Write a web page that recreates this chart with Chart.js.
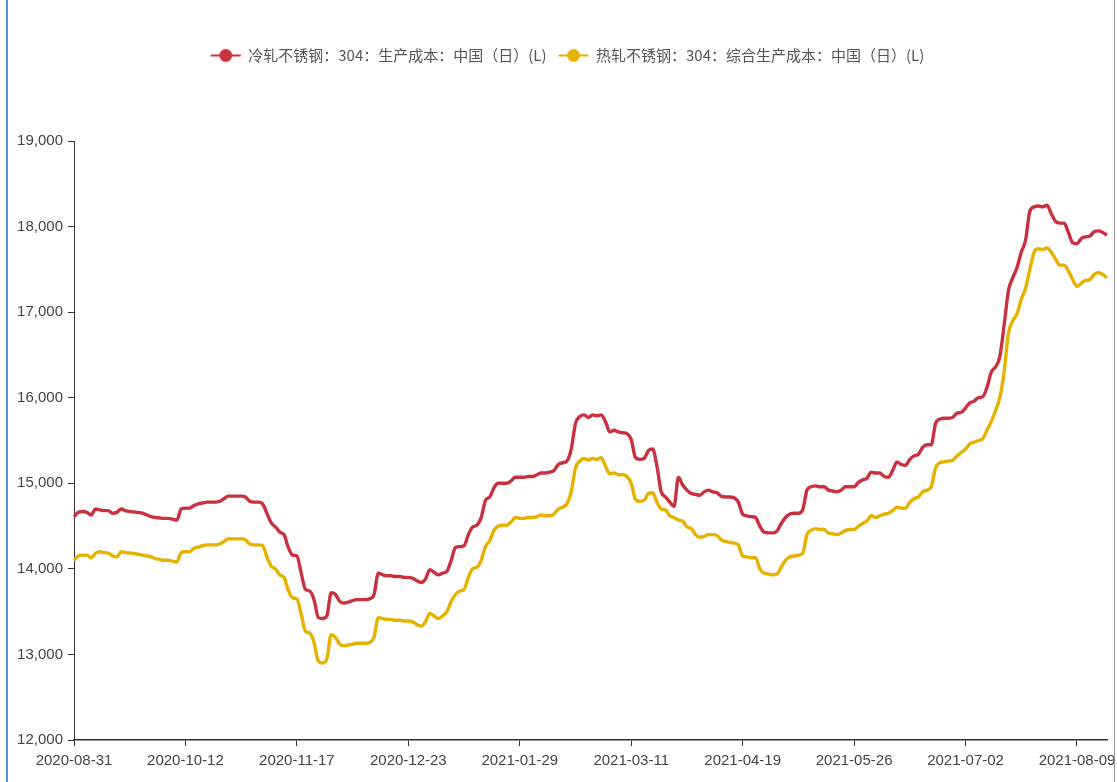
<!DOCTYPE html>
<html>
<head>
<meta charset="utf-8">
<script src="https://cdn.jsdelivr.net/npm/chart.js@4.4.1/dist/chart.umd.min.js"></script>
<style>
  html, body { margin: 0; padding: 0; background: #fff; }
  #wrap { position: relative; width: 1117px; height: 782px; overflow: hidden; background: #fff; }
  #frameL { position: absolute; left: 6px; top: 0; width: 2px; height: 782px; background: #5b8fd6; }
  #frameR { position: absolute; left: 1114px; top: 0; width: 1px; height: 782px; background: #9a9a9a; }
  canvas { position: absolute; left: 0; top: 0; }
</style>
</head>
<body>
<div id="wrap">
  <canvas id="c" width="1117" height="782"></canvas>
  <div id="frameL"></div>
  <div id="frameR"></div>
</div>
<script>
// ---- categories: Chinese trading days from 2020-08-31 to 2021-08-18 ----
const startDate = '2020-08-31';
const endDate = '2021-08-18';
const holidays = ['2020-10-01','2020-10-02','2020-10-05','2020-10-06','2020-10-07','2020-10-08',
  '2021-01-01','2021-02-11','2021-02-12','2021-02-15','2021-02-16','2021-02-17',
  '2021-04-05','2021-05-03','2021-05-04','2021-05-05','2021-06-14'];
const makeupDays = ['2020-09-27','2020-10-10','2021-02-07','2021-02-20','2021-04-25','2021-05-08'];
const tickLabels = ['2020-08-31','2020-10-12','2020-11-17','2020-12-23','2021-01-29',
  '2021-03-11','2021-04-19','2021-05-26','2021-07-02','2021-08-09'];

function buildDates() {
  const out = [];
  const d = new Date(startDate + 'T00:00:00Z');
  const end = new Date(endDate + 'T00:00:00Z');
  while (d <= end) {
    const s = d.toISOString().slice(0, 10);
    const wd = d.getUTCDay();
    const isWork = (wd !== 0 && wd !== 6 && !holidays.includes(s)) || makeupDays.includes(s);
    if (isWork) out.push(s);
    d.setUTCDate(d.getUTCDate() + 1);
  }
  return out;
}
const dates = buildDates();

// ---- series ----
const coldRolled = [
  14610,14660,14670,14660,14630,14700,14690,14680,14680,14650,
  14660,14700,14680,14670,14665,14660,14650,14630,14610,14600,
  14595,14590,14590,14580,14570,14700,14710,14710,14740,14760,
  14770,14780,14780,14780,14790,14820,14850,14850,14850,14850,
  14840,14790,14780,14780,14760,14650,14540,14490,14430,14400,
  14250,14160,14150,13950,13760,13740,13640,13430,13420,13450,
  13720,13700,13620,13600,13610,13630,13640,13640,13640,13650,
  13700,13950,13930,13920,13920,13910,13910,13900,13900,13890,
  13860,13840,13880,13990,13960,13930,13950,13970,14100,14250,
  14260,14270,14400,14490,14510,14600,14800,14840,14950,15000,
  15000,15000,15030,15070,15070,15070,15080,15080,15100,15120,
  15120,15130,15150,15220,15240,15260,15400,15700,15780,15800,
  15770,15800,15790,15800,15720,15600,15620,15600,15590,15580,
  15510,15300,15280,15290,15380,15400,15200,14900,14840,14780,
  14730,15070,14980,14920,14880,14870,14860,14900,14920,14900,
  14890,14850,14840,14840,14830,14780,14640,14620,14610,14600,
  14500,14430,14420,14420,14440,14530,14600,14640,14650,14650,
  14690,14920,14960,14970,14960,14960,14920,14910,14900,14920,
  14960,14960,14960,15010,15040,15060,15130,15120,15120,15080,
  15070,15150,15250,15220,15210,15280,15320,15340,15420,15450,
  15450,15700,15750,15760,15760,15770,15820,15830,15880,15940,
  15960,16000,16010,16120,16300,16360,16480,16850,17250,17400,
  17520,17700,17840,18180,18230,18240,18230,18250,18150,18060,
  18040,18040,17930,17810,17800,17860,17880,17890,17940,17950,
  17930,17900
];
const hotRolled = [
  14100,14150,14160,14160,14130,14180,14200,14190,14185,14150,
  14140,14200,14190,14185,14180,14170,14160,14150,14140,14120,
  14110,14100,14100,14090,14080,14190,14200,14200,14240,14255,
  14270,14280,14280,14280,14290,14320,14350,14350,14350,14350,
  14340,14290,14280,14280,14270,14140,14030,14000,13930,13900,
  13750,13660,13650,13470,13270,13250,13140,12920,12900,12950,
  13230,13200,13120,13100,13110,13120,13130,13130,13130,13140,
  13200,13430,13420,13410,13410,13400,13400,13390,13390,13380,
  13350,13330,13380,13480,13450,13420,13450,13500,13620,13700,
  13740,13760,13900,14000,14020,14100,14260,14330,14450,14500,
  14510,14510,14550,14600,14590,14590,14600,14600,14610,14630,
  14620,14620,14640,14700,14720,14760,14900,15180,15260,15290,
  15270,15290,15280,15300,15200,15110,15120,15100,15100,15080,
  15000,14810,14790,14800,14880,14890,14780,14700,14690,14620,
  14600,14570,14560,14490,14470,14400,14370,14380,14400,14400,
  14390,14340,14320,14310,14300,14280,14150,14140,14130,14130,
  14000,13950,13940,13930,13940,14020,14100,14140,14150,14160,
  14180,14400,14450,14470,14460,14460,14420,14410,14400,14420,
  14450,14460,14460,14500,14530,14560,14620,14600,14620,14640,
  14650,14680,14720,14710,14710,14780,14820,14840,14900,14920,
  14960,15180,15240,15250,15260,15270,15320,15360,15400,15460,
  15480,15500,15520,15620,15720,15850,16000,16300,16750,16900,
  16980,17150,17280,17500,17700,17740,17730,17750,17700,17620,
  17550,17550,17480,17380,17300,17340,17370,17380,17440,17460,
  17440,17400
];
const seriesNames = ['冷轧不锈钢：304：生产成本：中国（日）(L)', '热轧不锈钢：304：综合生产成本：中国（日）(L)'];
const seriesColors = ['#c8323e', '#e6b200'];
const yMin = 12000, yMax = 19000, yStep = 1000;

function legendIcon(color) {
  const cv = document.createElement('canvas');
  cv.width = 32; cv.height = 16;
  const g = cv.getContext('2d');
  g.strokeStyle = color; g.lineWidth = 2;
  g.beginPath(); g.moveTo(1, 8); g.lineTo(31, 8); g.stroke();
  g.fillStyle = color;
  g.beginPath(); g.arc(16, 8, 6.5, 0, Math.PI * 2); g.fill();
  return cv;
}
const icons = seriesColors.map(legendIcon);

const legendSpacer = {
  id: 'legendSpacer',
  beforeUpdate(chart) {
    const lg = chart.legend;
    if (lg && !lg._patched) {
      const orig = lg.fit;
      lg.fit = function () { orig.call(this); this.height = 105; };
      lg._patched = true;
    }
  },
  afterUpdate(chart) {
    const lg = chart.legend;
    if (lg) { lg.left += 14; lg.right += 14; }
  }
};

new Chart(document.getElementById('c'), {
  type: 'line',
  data: {
    labels: dates,
    datasets: [
      { label: seriesNames[0], data: coldRolled, borderColor: seriesColors[0], backgroundColor: seriesColors[0],
        borderWidth: 3.4, pointRadius: 0, cubicInterpolationMode: 'monotone', borderJoinStyle: 'round' },
      { label: seriesNames[1], data: hotRolled, borderColor: seriesColors[1], backgroundColor: seriesColors[1],
        borderWidth: 3.4, pointRadius: 0, cubicInterpolationMode: 'monotone', borderJoinStyle: 'round' }
    ]
  },
  options: {
    responsive: false,
    animation: false,
    layout: { padding: { top: 36, right: 10, bottom: 0, left: 0 } },
    plugins: {
      tooltip: { enabled: false },
      legend: {
        position: 'top',
        labels: {
          usePointStyle: true,
          pointStyleWidth: 30,
          padding: 12,
          color: '#555',
          font: { family: '"Noto Sans CJK SC", "Noto Sans", sans-serif', size: 15 },
          generateLabels(chart) {
            return chart.data.datasets.map((ds, i) => ({
              text: ds.label, fillStyle: ds.borderColor, strokeStyle: ds.borderColor,
              lineWidth: 0, pointStyle: icons[i], hidden: false, datasetIndex: i, fontColor: '#555'
            }));
          }
        }
      }
    },
    scales: {
      x: {
        type: 'category',
        grid: { display: true, drawOnChartArea: false, drawTicks: true, tickLength: 6, color: '#333' },
        border: { display: true, color: '#333', width: 1.5 },
        ticks: {
          autoSkip: false, maxRotation: 0, minRotation: 0, padding: 6,
          color: '#444', font: { family: '"Liberation Sans", Arial, sans-serif', size: 15 },
          callback(value) {
            const lab = this.getLabelForValue(value);
            return tickLabels.includes(lab) ? lab : null;
          }
        },
        afterFit(scale) { scale.height = 42; scale.paddingRight = 0; }
      },
      y: {
        min: yMin, max: yMax,
        grid: { display: true, drawOnChartArea: false, drawTicks: true, tickLength: 6, color: '#333' },
        border: { display: true, color: '#333', width: 1 },
        ticks: {
          stepSize: yStep, padding: 5, color: '#444',
          font: { family: '"Liberation Sans", Arial, sans-serif', size: 15 },
          callback(v) { return v.toLocaleString('en-US'); }
        },
        afterFit(scale) { scale.width = 74; }
      }
    }
  },
  plugins: [legendSpacer]
});
</script>
</body>
</html>
